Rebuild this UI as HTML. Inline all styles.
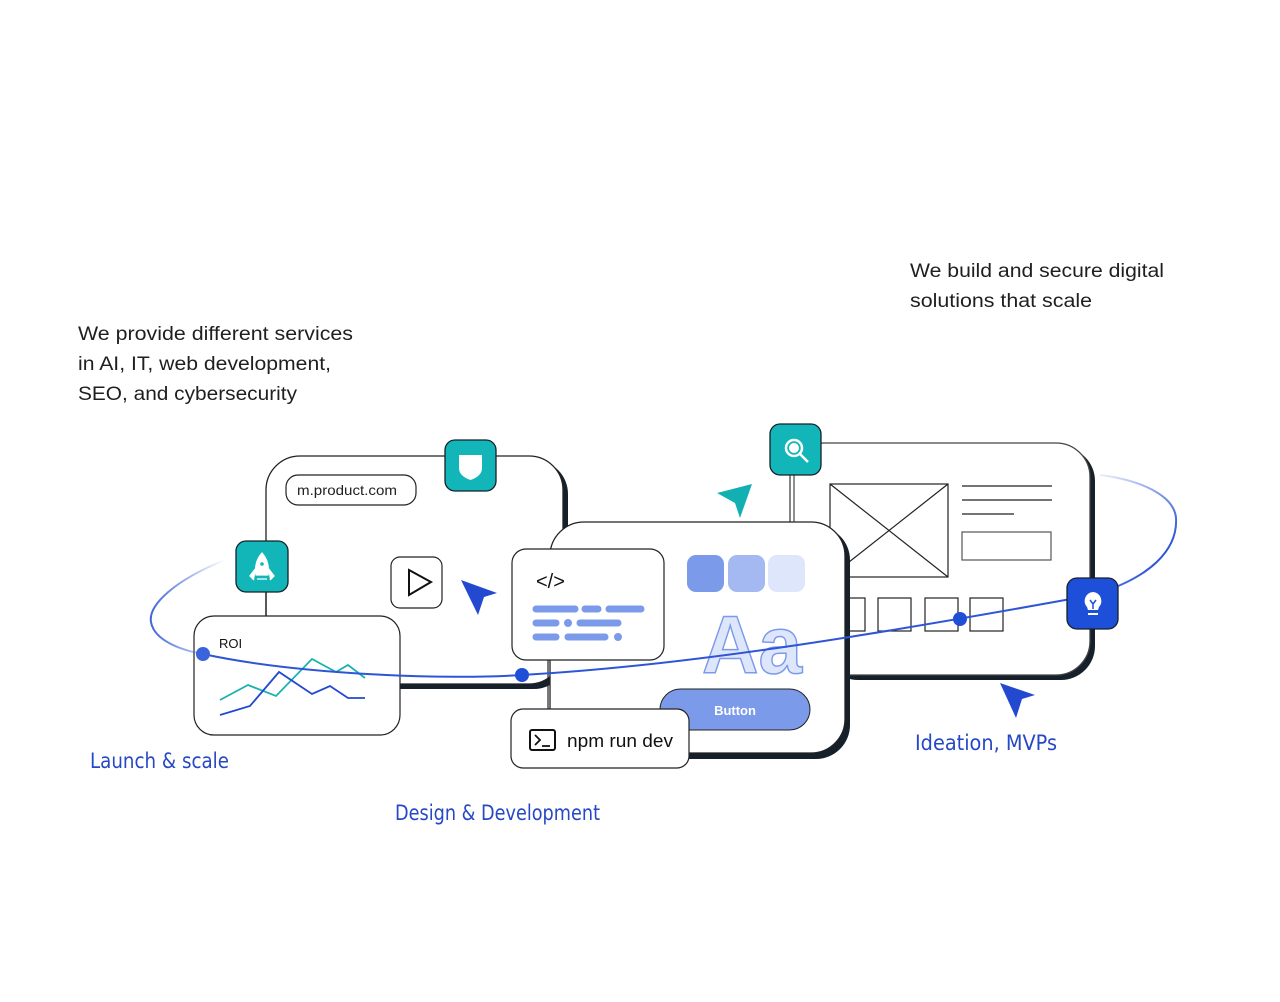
<!DOCTYPE html>
<html><head><meta charset="utf-8"><style>
html,body{margin:0;padding:0;background:#fff;width:1280px;height:1002px;overflow:hidden}
svg{display:block}
</style></head><body>
<svg width="1280" height="1002" viewBox="0 0 1280 1002" xmlns="http://www.w3.org/2000/svg" font-family="Liberation Sans, sans-serif">
<defs>
<linearGradient id="gl" x1="225" y1="0" x2="150" y2="0" gradientUnits="userSpaceOnUse"><stop offset="0" stop-color="#3f63d8" stop-opacity="0"/><stop offset="1" stop-color="#3f63d8"/></linearGradient>
<linearGradient id="gr" x1="1100" y1="475" x2="1176" y2="540" gradientUnits="userSpaceOnUse"><stop offset="0" stop-color="#3f63d8" stop-opacity="0.1"/><stop offset="1" stop-color="#2d55d6"/></linearGradient>
</defs>
<g fill="#1f1f1f" font-size="19">
<text x="78" y="340" textLength="275" lengthAdjust="spacingAndGlyphs">We provide different services</text>
<text x="78" y="370" textLength="253" lengthAdjust="spacingAndGlyphs">in AI, IT, web development,</text>
<text x="78" y="400" textLength="219" lengthAdjust="spacingAndGlyphs">SEO, and cybersecurity</text>
<text x="910" y="277" textLength="254" lengthAdjust="spacingAndGlyphs">We build and secure digital</text>
<text x="910" y="307" textLength="182" lengthAdjust="spacingAndGlyphs">solutions that scale</text>
</g>

<!-- Card C (right) -->
<rect x="824" y="447" width="271" height="233" rx="34" fill="#15202a"/>
<rect x="790" y="443" width="300" height="232" rx="34" fill="#fff" stroke="#444" stroke-width="1.3"/>
<g fill="none" stroke="#222" stroke-width="1.2">
<rect x="830" y="484" width="118" height="93"/>
<line x1="830" y1="484" x2="948" y2="577"/><line x1="948" y1="484" x2="830" y2="577"/>
<line x1="962" y1="486" x2="1052" y2="486"/><line x1="962" y1="500" x2="1052" y2="500"/><line x1="962" y1="514" x2="1014" y2="514"/>
<rect x="962" y="532" width="89" height="28" stroke="#555"/>
<rect x="832" y="598" width="33" height="33"/><rect x="878" y="598" width="33" height="33"/><rect x="925" y="598" width="33" height="33"/><rect x="970" y="598" width="33" height="33"/>
</g>
<line x1="794" y1="475" x2="794" y2="524" stroke="#555" stroke-width="1.3"/>

<!-- Card A (left) -->
<rect x="270" y="460" width="298" height="229" rx="34" fill="#15202a"/>
<rect x="266" y="456" width="297" height="228" rx="34" fill="#fff" stroke="#222" stroke-width="1.3"/>
<rect x="286" y="475" width="130" height="30" rx="12" fill="#fff" stroke="#222" stroke-width="1.2"/>
<text x="297" y="495" font-size="14" fill="#222" textLength="100" lengthAdjust="spacingAndGlyphs">m.product.com</text>
<rect x="391" y="557" width="51" height="51" rx="9" fill="#fff" stroke="#222" stroke-width="1.2"/>
<path d="M409 570 L431 582 L409 595 Z" fill="none" stroke="#111" stroke-width="2"/>
<path d="M461 580 L497 593 L484 597 L478 615 Z" fill="#2249cf"/>

<!-- Card B (middle) -->
<rect x="554" y="526" width="296" height="233" rx="34" fill="#15202a"/>
<rect x="550" y="522" width="295" height="231" rx="34" fill="#fff" stroke="#222" stroke-width="1.3"/>
<rect x="687" y="555" width="37" height="37" rx="9" fill="#7b9aea"/>
<rect x="728" y="555" width="37" height="37" rx="9" fill="#a4b9f1"/>
<rect x="768" y="555" width="37" height="37" rx="9" fill="#dde6fb"/>
<text x="702" y="673" font-size="82" font-weight="bold" fill="#dde6fb" stroke="#7b9aea" stroke-width="1.5" textLength="100" lengthAdjust="spacingAndGlyphs">Aa</text>
<rect x="660" y="689" width="150" height="41" rx="20.5" fill="#7b9aea" stroke="#222" stroke-width="1"/>
<text x="735" y="715" font-size="13" fill="#fff" text-anchor="middle" font-weight="bold">Button</text>
<path d="M717 493 L752 484 L740 518 L735 503 Z" fill="#12b0b3"/>
<!-- code card -->
<line x1="548" y1="660" x2="548" y2="710" stroke="#222" stroke-width="1.2"/>
<rect x="512" y="549" width="152" height="111" rx="14" fill="#fff" stroke="#222" stroke-width="1.2"/>
<text x="536" y="588" font-size="20" fill="#111">&lt;/&gt;</text>
<g stroke="#7b9aea" stroke-width="7" stroke-linecap="round">
<line x1="536" y1="609" x2="575" y2="609"/><line x1="585" y1="609" x2="598" y2="609"/><line x1="609" y1="609" x2="641" y2="609"/>
<line x1="536" y1="623" x2="556" y2="623"/><line x1="580" y1="623" x2="618" y2="623"/>
<line x1="536" y1="637" x2="556" y2="637"/><line x1="568" y1="637" x2="605" y2="637"/>
</g>
<circle cx="568" cy="623" r="4" fill="#7b9aea"/><circle cx="618" cy="637" r="4" fill="#7b9aea"/>
<!-- npm card -->
<rect x="511" y="709" width="178" height="59" rx="12" fill="#fff" stroke="#222" stroke-width="1.2"/>
<rect x="530" y="730" width="25" height="20" rx="2" fill="none" stroke="#111" stroke-width="2"/>
<path d="M535 735 L540 740 L535 745 M542 746 L550 746" fill="none" stroke="#111" stroke-width="1.8"/>
<text x="567" y="747" font-size="18" fill="#111" textLength="106" lengthAdjust="spacingAndGlyphs">npm run dev</text>

<!-- ROI card -->
<line x1="266" y1="592" x2="266" y2="616" stroke="#222" stroke-width="1.3"/>
<rect x="194" y="616" width="206" height="119" rx="20" fill="#fff" stroke="#222" stroke-width="1.2"/>
<text x="219" y="648" font-size="13" fill="#111">ROI</text>
<polyline points="220,700 248,685 276,696 312,659 336,672 348,665 365,678" fill="none" stroke="#1ab3b0" stroke-width="1.8"/>
<polyline points="220,715 250,706 279,672 312,694 330,686 348,698 365,698" fill="none" stroke="#2249cf" stroke-width="1.8"/>

<!-- orbit -->
<path d="M225 560 C 175 580, 148 605, 151 622 C 154 640, 180 650, 203 654" fill="none" stroke="url(#gl)" stroke-width="2"/>
<path d="M203 654 C 300 675, 450 680, 522 675 C 700 665, 900 630, 1093 595" fill="none" stroke="#2d55d6" stroke-width="2"/>
<path d="M1093 595 C 1150 578, 1178 550, 1176 518 C 1174 495, 1140 480, 1100 475" fill="none" stroke="url(#gr)" stroke-width="2"/>
<circle cx="203" cy="654" r="7" fill="#3a63dc"/>
<circle cx="522" cy="675" r="7" fill="#1f4fd6"/>
<circle cx="960" cy="619" r="7" fill="#1f4fd6"/>

<!-- icons -->
<rect x="445" y="440" width="51" height="51" rx="10" fill="#12b5b8" stroke="#15202a" stroke-width="1.3"/>
<path d="M459 455 L482 455 L482 468 Q482 476 470.5 480 Q459 476 459 468 Z" fill="#fff"/>
<rect x="236" y="541" width="52" height="51" rx="10" fill="#12b5b8" stroke="#15202a" stroke-width="1.3"/>
<path d="M262 553 Q270 562 268 575 L256 575 Q254 562 262 553 Z M256 568 L250 576 L254 580 M268 568 L274 576 L270 580 M257 579 L267 579" fill="#fff" stroke="#fff" stroke-width="1.3"/>
<circle cx="262" cy="564" r="1.8" fill="#12b5b8"/>
<rect x="770" y="424" width="51" height="51" rx="10" fill="#12b5b8" stroke="#15202a" stroke-width="1.3"/>
<circle cx="794" cy="448" r="8" fill="none" stroke="#fff" stroke-width="2.5"/><circle cx="794" cy="448" r="5" fill="#fff"/>
<line x1="800" y1="454" x2="808" y2="462" stroke="#fff" stroke-width="2.5"/>
<rect x="1067" y="578" width="51" height="51" rx="10" fill="#1e4fd8" stroke="#15202a" stroke-width="1.3"/>
<path d="M1093 592 a9 9 0 0 1 6 15 l-1 3 h-10 l-1 -3 a9 9 0 0 1 6 -15 Z" fill="#fff"/>
<path d="M1090 600 L1093 604 L1096 600 M1093 604 L1093 609" stroke="#1e4fd8" stroke-width="1.5" fill="none"/>
<line x1="1088" y1="614" x2="1098" y2="614" stroke="#fff" stroke-width="2"/>
<path d="M1000 683 L1035 695 L1022 699 L1016 718 Z" fill="#2249cf"/>

<!-- labels -->
<g fill="#2748c6" font-family="DejaVu Sans Condensed, DejaVu Sans, sans-serif" font-size="21">
<text x="90" y="768" textLength="139" lengthAdjust="spacingAndGlyphs">Launch &amp; scale</text>
<text x="395" y="820" textLength="205" lengthAdjust="spacingAndGlyphs">Design &amp; Development</text>
<text x="915" y="750" textLength="142" lengthAdjust="spacingAndGlyphs">Ideation, MVPs</text>
</g>
</svg>
</body></html>
